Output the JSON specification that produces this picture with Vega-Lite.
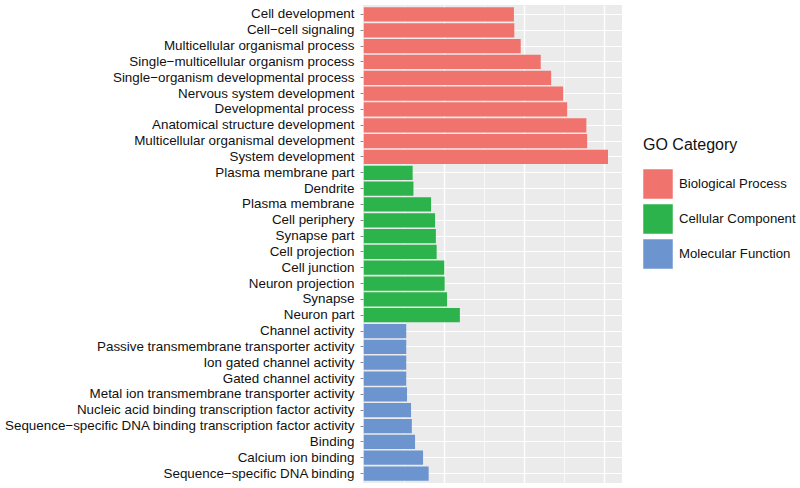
{
  "$schema": "https://vega.github.io/schema/vega-lite/v6.json",
  "width": 259,
  "height": 478,
  "autosize": "none",
  "padding": {"left": 363, "top": 5, "right": 178, "bottom": 5},
  "background": "white",
  "config": {
    "view": {"fill": "#EBEBEB", "stroke": null},
    "font": "Liberation Sans"
  },
  "data": {
    "values": [
      {"term": "Cell development", "category": "Biological Process", "value": 18.75},
      {"term": "Cell−cell signaling", "category": "Biological Process", "value": 18.8},
      {"term": "Multicellular organismal process", "category": "Biological Process", "value": 19.6},
      {"term": "Single−multicellular organism process", "category": "Biological Process", "value": 22.1},
      {"term": "Single−organism developmental process", "category": "Biological Process", "value": 23.4},
      {"term": "Nervous system development", "category": "Biological Process", "value": 24.9},
      {"term": "Developmental process", "category": "Biological Process", "value": 25.4},
      {"term": "Anatomical structure development", "category": "Biological Process", "value": 27.8},
      {"term": "Multicellular organismal development", "category": "Biological Process", "value": 27.9},
      {"term": "System development", "category": "Biological Process", "value": 30.5},
      {"term": "Plasma membrane part", "category": "Cellular Component", "value": 6.1},
      {"term": "Dendrite", "category": "Cellular Component", "value": 6.2},
      {"term": "Plasma membrane", "category": "Cellular Component", "value": 8.4},
      {"term": "Cell periphery", "category": "Cellular Component", "value": 8.9},
      {"term": "Synapse part", "category": "Cellular Component", "value": 9.0},
      {"term": "Cell projection", "category": "Cellular Component", "value": 9.1},
      {"term": "Cell junction", "category": "Cellular Component", "value": 10.05},
      {"term": "Neuron projection", "category": "Cellular Component", "value": 10.1},
      {"term": "Synapse", "category": "Cellular Component", "value": 10.4},
      {"term": "Neuron part", "category": "Cellular Component", "value": 12.0},
      {"term": "Channel activity", "category": "Molecular Function", "value": 5.3},
      {"term": "Passive transmembrane transporter activity", "category": "Molecular Function", "value": 5.3},
      {"term": "Ion gated channel activity", "category": "Molecular Function", "value": 5.3},
      {"term": "Gated channel activity", "category": "Molecular Function", "value": 5.3},
      {"term": "Metal ion transmembrane transporter activity", "category": "Molecular Function", "value": 5.4},
      {"term": "Nucleic acid binding transcription factor activity", "category": "Molecular Function", "value": 5.9},
      {"term": "Sequence−specific DNA binding transcription factor activity", "category": "Molecular Function", "value": 6.0},
      {"term": "Binding", "category": "Molecular Function", "value": 6.4},
      {"term": "Calcium ion binding", "category": "Molecular Function", "value": 7.4},
      {"term": "Sequence−specific DNA binding", "category": "Molecular Function", "value": 8.1}
    ]
  },
  "mark": {"type": "bar", "stroke": null},
  "encoding": {
    "y": {
      "field": "term",
      "type": "nominal",
      "sort": null,
      "scale": {"paddingInner": 0.1, "paddingOuter": 0.15},
      "axis": {
        "title": null,
        "domain": false,
        "ticks": true,
        "tickSize": 3,
        "tickColor": "#888888",
        "tickWidth": 1,
        "labelFontSize": 13.4,
        "labelColor": "#111111",
        "labelPadding": 6,
        "labelLimit": 400,
        "grid": true,
        "gridColor": "white",
        "gridWidth": 1.2
      }
    },
    "x": {
      "field": "value",
      "type": "quantitative",
      "scale": {"domain": [-0.1, 32.25], "nice": false, "zero": false},
      "axis": {
        "title": null,
        "labels": false,
        "ticks": false,
        "domain": false,
        "values": [5, 10, 15, 20, 25, 30],
        "grid": true,
        "gridColor": "white",
        "gridWidth": {"condition": {"test": "datum.value % 10 === 0", "value": 1.4}, "value": 0.7}
      }
    },
    "color": {
      "field": "category",
      "type": "nominal",
      "scale": {
        "domain": ["Biological Process", "Cellular Component", "Molecular Function"],
        "range": ["#F0736D", "#2DB34B", "#6C94CF"]
      },
      "legend": {
        "title": "GO Category",
        "orient": "none",
        "legendX": 280,
        "legendY": 132,
        "titleFontSize": 16,
        "titleFontWeight": "normal",
        "titleColor": "#111111",
        "titlePadding": 16,
        "symbolType": "square",
        "symbolSize": 870,
        "symbolStrokeWidth": 0,
        "labelFontSize": 13.2,
        "labelColor": "#111111",
        "labelOffset": 6,
        "rowPadding": 5
      }
    }
  }
}
